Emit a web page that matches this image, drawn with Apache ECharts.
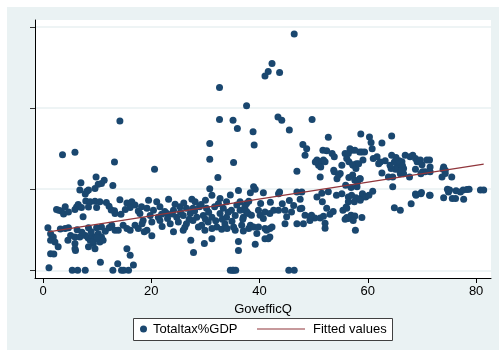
<!DOCTYPE html>
<html>
<head>
<meta charset="utf-8">
<script src="https://cdn.jsdelivr.net/npm/echarts@6/dist/echarts.min.js"></script>
<style>
  html, body { margin: 0; padding: 0; background: #ffffff; }
  #chart { width: 499px; height: 353px; }
</style>
</head>
<body>
<div id="chart"></div>
<script>
// Government effectiveness (x) against total tax revenue as % of GDP (y)

// Countries with unusually high tax shares
const upperPoints = [
  [14.2,36.8],[32.6,45.1],[37.6,40.6],[32.6,37.2],[35.1,37.0],[35.9,35.0],[38.8,34.2],
  [41.6,49.0],[41.0,47.9],[42.3,51.0],[43.7,48.8],[46.4,58.3],[43.4,37.8],[44.1,37.0],
  [45.5,34.6],[49.7,37.2],[52.7,32.8],[39.0,30.9],[48.0,31.0],[30.8,31.3],
  [58.7,33.6],[60.3,32.9],[60.6,31.5],[60.8,30.0],[62.6,31.4],[64.4,33.1]
];

// GovefficQ below ~18
const lowBand = [
  [3.6,28.5],[5.9,29.1],[13.2,26.7],
  [9.8,23.0],[11.3,22.2],[10.8,21.4],[7.0,21.6],[12.9,20.9],[10.2,21.2],[9.6,20.2],[6.8,19.8],[8.4,19.8],[7.8,18.8],[8.1,19.5],
  [7.9,17.1],[8.7,16.9],[9.6,17.0],[10.5,16.9],[11.7,16.7],[6.5,16.2],[6.2,15.6],[7.1,15.5],[8.4,15.6],[9.9,15.5],
  [2.5,15.0],[2.9,14.8],[3.4,14.6],[4.1,15.7],[3.8,13.9],[4.7,14.4],[5.9,15.0],[7.4,13.2],[13.2,14.7],[13.3,14.0],
  [14.2,17.4],[15.5,16.6],[16.4,16.9],[17.0,16.1],[16.1,15.5],[15.2,15.0],[17.6,14.6],[12.2,15.8],[12.6,14.9],[14.4,13.8],
  [0.9,10.5],[1.4,9.0],[1.9,8.2],[1.4,7.4],[2.2,7.0],[2.8,5.8],[4.7,10.5],[4.1,10.3],[5.1,8.6],[4.6,7.4],[5.9,8.2],
  [6.8,8.2],[5.9,6.6],[5.9,5.3],[7.8,8.6],[8.3,8.0],[8.7,7.4],[9.0,8.6],[9.6,7.8],[10.2,9.0],[10.8,8.2],[10.5,7.0],
  [11.1,7.4],[9.3,6.6],[8.4,5.8],[9.6,5.3],[10.8,10.7],[9.9,10.5],[8.4,10.5],[12.7,11.1],[13.3,9.9],[13.9,9.9],
  [14.8,11.1],[15.5,10.3],[16.1,9.9],[17.0,11.1],[17.6,10.3],[15.5,5.3],
  [9.2,7.1],[10.0,8.0],[8.9,9.5],[11.5,9.6],[7.2,9.4],[6.3,10.0],[3.2,10.2],[12.2,10.5],
  [1.1,0.6],[5.4,0],[6.4,0],[7.8,0],[12.9,0],[14.5,0],[14.9,0],[15.8,0],[10.6,2.0],[13.8,1.6],[16.7,1.3],
  [16.1,3.7],[1.4,4.1],[2.0,4.0],[6.0,4.9]
];

// GovefficQ ~18 to ~38
const midBand = [
  [20.6,24.9],[30.8,27.4],[35.2,26.6],[32.3,22.9],[30.8,20.1],[34.6,18.6],[36.1,19.7],
  [19.5,17.3],[21.0,16.9],[23.2,17.5],[27.5,17.5],[28.1,16.9],[30.0,17.3],[31.2,18.5],[32.7,17.7],[33.9,16.9],[36.4,16.9],[37.6,16.5],
  [18.2,15.7],[19.2,15.3],[20.4,14.8],[21.6,15.7],[22.5,14.5],[24.1,14.8],[25.3,15.7],[26.5,15.3],[27.7,15.3],[28.9,15.7],
  [30.2,15.3],[31.7,15.7],[33.3,15.3],[34.8,14.8],[36.4,14.8],[37.6,14.5],
  [17.9,14.0],[19.8,13.5],[21.3,13.1],[22.9,14.0],[24.7,13.1],[25.9,13.5],[27.2,14.0],[28.4,13.1],[29.6,13.5],[31.2,13.1],
  [32.7,14.0],[33.9,13.1],[35.5,13.5],[37.0,13.1],
  [18.5,12.3],[20.1,11.9],[21.6,12.3],[23.5,11.5],[25.0,11.9],[26.5,11.5],[27.7,12.3],[29.3,11.1],[30.5,11.9],[32.1,10.7],
  [33.6,11.5],[35.2,10.7],[36.7,11.1],[38.0,10.3],
  [19.2,9.9],[20.1,8.5],[24.1,9.5],[25.9,9.9],[28.7,10.7],[29.9,9.9],[31.2,10.3],[33.0,10.1],[35.5,9.9],[37.0,9.7],
  [23.0,12.8],[24.4,16.3],[26.0,16.6],[27.0,12.6],[28.0,14.6],[29.2,16.2],[30.6,14.3],[31.9,12.2],[32.4,16.4],[33.1,12.6],
  [34.2,14.3],[34.9,12.1],[35.8,16.1],[36.9,12.6],[37.3,15.8],[22.0,10.8],[26.2,10.6],[30.0,12.6],[34.0,10.3],[25.4,14.3],
  [21.9,13.8],[23.9,13.9],[18.3,11.5],[18.7,9.5],
  [27.3,7.4],[27.8,4.4],[29.8,6.6],[31.2,7.8],[36.1,7.1],[36.1,4.9],
  [34.6,0],[35.0,0],[35.2,0],[35.6,0]
];

// GovefficQ ~38 to ~58
const upperMidBand = [
  [48.7,30.0],[48.4,28.4],[46.9,24.4],[56.7,30.0],
  [50.6,27.2],[50.9,25.9],[51.2,26.8],[51.8,27.2],[52.1,26.8],[50.3,26.7],[51.3,25.5],
  [51.7,29.6],[52.4,29.5],[53.4,28.8],[53.8,28.0],[51.2,23.0],[53.7,24.7],[54.9,23.9],[54.3,22.6],[53.8,24.3],[54.6,23.5],
  [55.8,28.8],[57.0,29.6],[56.1,27.6],[55.2,25.9],[57.3,25.9],[57.9,26.3],[58.5,29.2],[56.4,28.8],[57.6,29.6],[56.5,26.8],
  [57.2,26.0],[57.8,25.1],[58.3,26.3],[57.2,23.5],[56.5,22.9],[55.9,21.0],[58.5,22.6],[57.6,22.2],[58.1,21.8],
  [38.9,20.6],[39.2,20.0],[38.3,19.1],[40.7,19.1],[43.5,18.9],[43.7,19.3],[46.9,19.3],[47.8,19.3],[47.5,17.5],
  [38.0,17.0],[40.2,16.5],[42.0,16.8],[44.2,16.4],[45.5,17.2],[46.3,16.0],
  [50.6,18.1],[51.5,19.0],[52.7,19.4],[54.2,18.5],[55.2,18.9],[56.4,18.1],[57.0,18.5],[57.8,17.9],[56.9,20.4],[58.0,20.6],
  [51.6,16.9],[47.8,15.3],[52.4,15.3],[56.1,15.3],[53.6,14.5],[57.5,16.9],[56.4,16.9],[55.4,14.8],[56.0,15.6],[56.9,13.6],[56.4,12.8],
  [49.6,13.6],[50.2,12.9],[51.2,12.9],[51.8,13.3],[53.0,13.8],[49.3,12.3],
  [37.3,14.8],[37.9,14.0],[38.5,13.6],[39.8,14.8],[40.1,13.6],[41.0,14.4],[40.7,12.8],[41.9,14.0],[42.6,14.8],[43.5,14.8],
  [44.7,14.8],[45.9,14.4],[45.0,13.2],[47.5,15.2],[48.4,13.6],[49.3,13.2],
  [38.3,11.1],[38.9,10.7],[39.8,10.7],[41.0,10.3],[41.3,9.9],[41.9,10.3],[42.3,10.7],[44.7,11.5],[46.9,11.5],[48.1,11.5],
  [39.5,9.1],[41.0,7.8],[41.6,7.8],[41.9,8.2],[39.2,6.4],
  [52.1,11.6],[52.1,10.4],[56.1,13.0],[55.8,12.6],[57.0,13.0],[57.6,13.4],[57.3,12.3],[57.7,9.9],
  [45.4,0],[46.4,0]
];

// GovefficQ above ~58
const highBand = [
  [58.9,29.2],[59.1,27.2],[59.4,29.2],
  [61.0,27.6],[61.7,28.0],[62.0,26.3],[62.3,26.7],[63.2,27.0],[64.4,28.4],[64.9,26.7],[65.4,26.3],[65.7,25.5],[66.3,26.8],
  [66.6,25.1],[66.9,28.4],[67.8,28.0],[68.3,28.4],[68.8,27.6],[69.1,26.8],[69.7,27.2],[70.0,26.0],[70.9,27.2],[71.4,27.2],
  [71.5,25.5],[70.6,24.3],[71.5,24.3],[70.1,24.3],[69.8,23.8],[68.8,24.9],[67.7,23.0],[66.0,23.8],[66.6,23.8],[65.6,24.9],
  [65.1,24.9],[64.3,25.1],[64.1,25.9],[63.8,23.0],[64.6,23.0],[62.6,24.0],[58.6,22.6],[60.9,19.5],
  [74.0,25.5],[74.3,24.7],[73.7,23.0],[75.5,23.0],[74.3,23.9],[73.9,24.9],
  [65.8,27.0],[66.4,25.8],[65.2,27.8],[66.2,24.6],
  [64.6,20.6],[58.9,18.0],[59.3,18.3],[59.0,18.9],[59.6,18.1],[60.2,18.5],[58.6,17.3],
  [68.8,18.8],[69.9,19.2],[71.4,18.5],[74.7,20.0],[74.9,19.3],[74.0,17.9],[75.6,17.7],[76.3,19.6],[77.1,19.3],[78.3,19.9],
  [77.7,17.5],[80.8,19.8],[81.4,19.8],[75.1,19.8],[77.6,19.8],[78.7,20.0],[76.2,17.7],[68.9,18.5],[69.8,18.9],[71.5,18.5],
  [68.0,16.4],[64.9,15.4],[66.0,14.8],[58.9,13.0]
];

// Linear fit, evaluated at the ends of the data range
const fittedLine = [[1.0, 9.46], [81.4, 26.2]];

const xTicks = [0, 20, 40, 60, 80];
const yTicks = [0, 20, 40, 60];

const navy = '#1a476f';
const maroon = '#90353b';
const font = 'Liberation Sans, Arial, Helvetica, sans-serif';

const chart = echarts.init(document.getElementById('chart'), null, { renderer: 'canvas' });

chart.setOption({
  animation: false,
  backgroundColor: '#ffffff',
  textStyle: { fontFamily: font },
  graphic: [
    { type: 'rect', z: -10, silent: true,
      shape: { x: 7, y: 7, width: 492, height: 343 },
      style: { fill: '#eaf2f3' } },
    { type: 'rect', z: 3, silent: true,
      shape: { x: 133.5, y: 318.5, width: 259, height: 22 },
      style: { fill: '#ffffff', stroke: '#404040', lineWidth: 1 } }
  ],
  grid: {
    left: 35, top: 20, width: 456, height: 258,
    show: true, backgroundColor: '#ffffff', borderWidth: 0
  },
  legend: [
    {
      data: [{ name: 'Totaltax%GDP', icon: 'circle' }],
      left: 140, top: 322.5, padding: 0,
      itemWidth: 7, itemHeight: 7,
      textStyle: { fontSize: 13, color: '#000', fontFamily: font, padding: [0, 0, 0, 1] },
      selectedMode: false
    },
    {
      data: [{ name: 'Fitted values', icon: 'rect' }],
      left: 257, top: 322.5, padding: 0,
      itemWidth: 48, itemHeight: 1.2,
      itemStyle: { color: maroon },
      textStyle: { fontSize: 13, color: '#000', fontFamily: font, padding: [0, 0, 0, 3] },
      selectedMode: false
    }
  ],
  xAxis: {
    type: 'value',
    min: -1.48, max: 82.75,
    name: 'GovefficQ',
    nameLocation: 'middle',
    nameGap: 19,
    nameTextStyle: { fontSize: 13, color: '#000', fontFamily: font },
    axisLine: { show: true, onZero: false, lineStyle: { color: '#000', width: 1 } },
    axisTick: { show: true, customValues: xTicks, length: 5, lineStyle: { color: '#000', width: 1 } },
    axisLabel: { show: true, customValues: xTicks, fontSize: 13, color: '#000', margin: 7, fontFamily: font },
    splitLine: { show: false }
  },
  yAxis: {
    type: 'value',
    min: -1.9, max: 61.73,
    axisLine: { show: true, onZero: false, lineStyle: { color: '#000', width: 1 } },
    axisTick: { show: true, customValues: yTicks, length: 5, lineStyle: { color: '#333', width: 1 } },
    axisLabel: { show: false, customValues: yTicks },
    splitLine: { show: true, lineStyle: { color: '#e8f0f2', width: 1.5 } }
  },
  series: [
    {
      name: 'Totaltax%GDP',
      type: 'scatter',
      data: [].concat(lowBand, midBand, upperMidBand, highBand, upperPoints),
      symbol: 'circle',
      symbolSize: 7,
      itemStyle: { color: navy, opacity: 1 },
      emphasis: { disabled: true }
    },
    {
      name: 'Fitted values',
      type: 'line',
      data: fittedLine,
      symbol: 'none',
      lineStyle: { color: maroon, width: 1.2 },
      itemStyle: { color: maroon },
      emphasis: { disabled: true }
    }
  ]
});
</script>
</body>
</html>
